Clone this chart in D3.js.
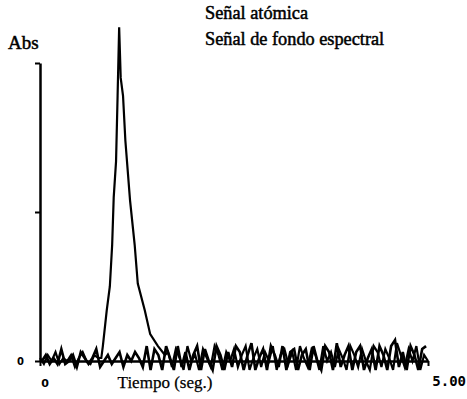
<!DOCTYPE html>
<html>
<head>
<meta charset="utf-8">
<script src="https://cdn.jsdelivr.net/npm/d3@7"></script>
<style>
  body { margin: 0; background: #fff; }
  text.serif { font-family: "Liberation Serif", "DejaVu Serif", serif; fill: #000; stroke: #000; stroke-width: 0.5; }
</style>
</head>
<body>
<div id="vis"></div>
<script>
// atomic signal: baseline before the peak (every 0.05 s from 0)
const atomPreAbs = [0.01, -0.01, 0.02, 0.0, 0.03, -0.01, 0.01, 0.0, 0.02, -0.02, 0.01, 0.03, 0.0, -0.01, 0.02, 0.01];
// atomic signal: the peak itself
const peakTime = [0.79, 0.81, 0.86, 0.9, 0.93, 0.95, 0.98, 1.0, 1.02, 1.04, 1.07, 1.1, 1.16, 1.22, 1.26, 1.35, 1.42, 1.52, 1.61];
const peakAbs = [0.01, 0.05, 0.17, 0.25, 0.39, 0.55, 0.67, 0.89, 1.12, 0.95, 0.89, 0.74, 0.54, 0.39, 0.26, 0.17, 0.09, 0.05, 0.02];
// atomic signal: baseline after the peak (every 0.05 s from 1.65)
const atomPostAbs = [0.03, -0.02, 0.04, 0.01, -0.03, 0.05, 0.0, 0.02, -0.03, 0.04,
  0.01, -0.02, 0.05, 0.02, -0.03, 0.03, 0.0, 0.04, -0.02, 0.02,
  0.05, -0.03, 0.01, 0.04, -0.02, 0.03, 0.0, 0.05, -0.03, 0.02,
  0.04, -0.01, 0.03, -0.03, 0.05, 0.01, -0.02, 0.04, 0.02, -0.03,
  0.05, 0.0, 0.03, -0.02, 0.04, 0.01, -0.03, 0.05, 0.02, -0.02,
  0.04, 0.0, -0.03, 0.05, 0.03, -0.02, 0.04, 0.01, -0.03, 0.06,
  0.02, -0.02, 0.04, 0.0, 0.05, -0.03, 0.02, 0.0];
const atomStep = 0.05, atomPostStart = 1.65;

// spectral background signal, every 0.05 s from 0.025
const fondoAbs = [0.0, 0.02, -0.01, 0.01, -0.01, 0.04, -0.01, 0.0, 0.02, -0.02, 0.03, 0.01, -0.01, 0.01, 0.04, -0.02, 0.0, 0.02, -0.01, 0.01, 0.03, -0.02, 0.02, 0.0, 0.03, 0.01, -0.02, 0.05,
  -0.03, 0.04, 0.02, -0.03, 0.05, 0.01, -0.03, 0.05, -0.02, 0.03, -0.03, 0.02, 0.05, -0.03, 0.04, 0.0, -0.03, 0.05, 0.02, -0.03, 0.03, -0.02, 0.05, 0.03, -0.03, 0.02, 0.06, -0.03, 0.01, 0.04, -0.03, 0.05, 0.02, -0.02, 0.05, -0.03, 0.03, 0.04, -0.03, 0.02, 0.04, -0.03, 0.05, 0.0, -0.03, 0.05, 0.03, -0.03, 0.06, -0.02, 0.02, 0.05, -0.03, 0.03, 0.05, -0.03, 0.01, 0.04, -0.03, 0.05, 0.02, -0.03, 0.05, 0.07, -0.02, 0.03, -0.03, 0.05, 0.02, -0.03, 0.04, 0.05];
const fondoStep = 0.05, fondoStart = 0.025;

const legendLabels = ["Señal atómica", "Señal de fondo espectral"];
const yTicks = [0, 0.5, 1];

const width = 467, height = 399;
const margin = { top: 63, right: 39, bottom: 38, left: 40 };

const svg = d3.select("#vis")
  .append("svg")
  .attr("width", width)
  .attr("height", height);

const x = d3.scaleLinear()
  .domain([0, 5])
  .range([margin.left, width - margin.right]);

const y = d3.scaleLinear()
  .domain([0, 1])
  .range([height - margin.bottom, margin.top]);

const atom = []
  .concat(atomPreAbs.map((v, i) => ({ t: i * atomStep, v })))
  .concat(peakTime.map((t, i) => ({ t, v: peakAbs[i] })))
  .concat(atomPostAbs.map((v, i) => ({ t: atomPostStart + i * atomStep, v })));
const fondo = fondoAbs.map((v, i) => ({ t: fondoStart + i * fondoStep, v }));

const line = d3.line()
  .x(d => x(d.t))
  .y(d => y(d.v));

// y axis: bare line with short left ticks
const yAxis = svg.append("g")
  .attr("transform", `translate(${margin.left},0)`)
  .call(d3.axisLeft(y).tickValues(yTicks).tickSize(5).tickSizeOuter(0).tickFormat(""));
yAxis.select(".domain").attr("stroke", "#000").attr("stroke-width", 2.5);
yAxis.selectAll(".tick line").attr("stroke-width", 2);

// x axis
const xAxis = svg.append("g")
  .attr("transform", `translate(0,${y(0)})`)
  .call(d3.axisBottom(x).tickValues([0, 5]).tickSize(5).tickSizeOuter(0).tickFormat(""));
xAxis.select(".domain").attr("stroke", "#000").attr("stroke-width", 2.5);
xAxis.selectAll(".tick line").attr("stroke-width", 2);

svg.append("path")
  .datum(fondo)
  .attr("fill", "none")
  .attr("stroke", "#000")
  .attr("stroke-width", 2.6)
  .attr("d", line);

svg.append("path")
  .datum(atom)
  .attr("fill", "none")
  .attr("stroke", "#000")
  .attr("stroke-width", 2.2)
  .attr("d", line);

// labels
svg.append("text")
  .attr("class", "serif")
  .attr("x", 8)
  .attr("y", 49)
  .attr("font-size", 19)
  .text("Abs");

svg.append("text")
  .attr("x", 17)
  .attr("y", y(0) + 4)
  .style("font-family", "'DejaVu Sans'")
  .attr("font-size", 10)
  .attr("font-weight", "bold")
  .text("0");

svg.append("text")
  .attr("x", x(0) + 5)
  .attr("y", 387)
  .attr("text-anchor", "middle")
  .style("font-family", "'DejaVu Sans'")
  .attr("font-size", 11)
  .attr("font-weight", "bold")
  .text("0");

svg.append("text")
  .attr("x", 466)
  .attr("y", 386)
  .attr("text-anchor", "end")
  .style("font-family", "'DejaVu Sans Mono', monospace")
  .attr("font-size", 14)
  .attr("font-weight", "bold")
  .text("5.00");

svg.append("text")
  .attr("class", "serif")
  .attr("x", 165)
  .attr("y", 388)
  .attr("text-anchor", "middle")
  .attr("font-size", 17)
  .style("stroke-width", 0.25)
  .text("Tiempo (seg.)");

svg.selectAll(".legend")
  .data(legendLabels)
  .enter()
  .append("text")
  .attr("class", "serif legend")
  .attr("x", 205)
  .attr("y", (d, i) => 19 + i * 26)
  .attr("font-size", 18.3)
  .text(d => d);
</script>
</body>
</html>
